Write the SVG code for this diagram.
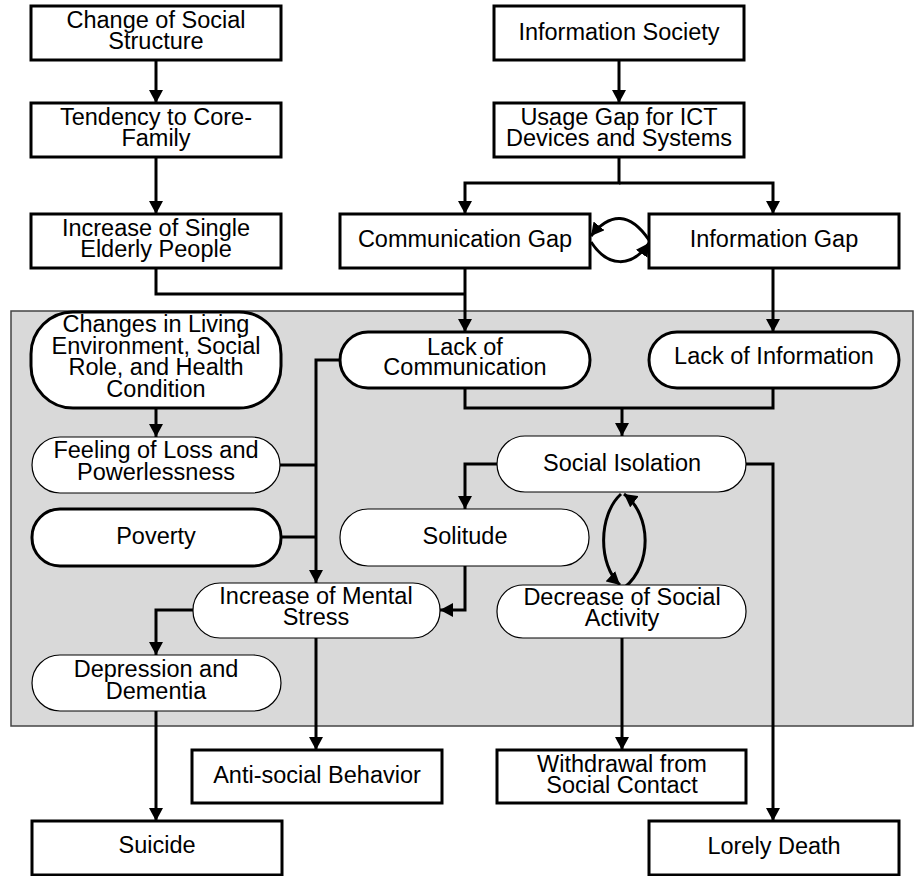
<svg xmlns="http://www.w3.org/2000/svg" width="914" height="876" viewBox="0 0 914 876">
<defs>
<style>
text{font-family:"Liberation Sans",Arial,sans-serif;font-size:23.5px;fill:#000;text-anchor:middle}
.box{fill:#fff;stroke:#000;stroke-width:3}
.thick{fill:#fff;stroke:#000;stroke-width:3}
.thin{fill:#fff;stroke:#000;stroke-width:1.2}
.c{fill:none;stroke:#000;stroke-width:3}
.a{fill:none;stroke:#000;stroke-width:3;marker-end:url(#ah)}
</style>
<marker id="ah" markerUnits="userSpaceOnUse" markerWidth="14" markerHeight="14" refX="13" refY="7" orient="auto">
<path d="M0,0 L13,7 L0,14 z" fill="#000"/>
</marker>
</defs>
<rect x="11" y="311" width="902" height="415" fill="#d9d9d9" stroke="#444" stroke-width="1.5"/>
<g id="connectors">
<path class="a" d="M156,60 V103"/>
<path class="a" d="M156,157 V214"/>
<path class="a" d="M619,60 V103"/>
<path class="a" d="M619,157 V183 H465 V214"/>
<path class="a" d="M619,183 H773 V214"/>
<path class="a" d="M649,240 C630,212 610,212 591,236"/>
<path class="a" d="M591,242 C608,268 632,268 649,243"/>
<path class="c" d="M156,268 V294 H465"/>
<path class="a" d="M465,268 V332"/>
<path class="a" d="M773,268 V332"/>
<path class="a" d="M156,408 V437"/>
<path class="a" d="M340,360 H316 V583"/>
<path class="c" d="M280,465 H316"/>
<path class="c" d="M281,537 H316"/>
<path class="c" d="M465,388 V408 H773 V388"/>
<path class="a" d="M622,408 V436"/>
<path class="a" d="M497,464 H465 V509"/>
<path class="a" d="M746,464 H773 V821"/>
<path class="a" d="M465,566 V610 H440"/>
<path class="a" d="M193,610 H156 V655"/>
<path class="a" d="M316,638 V750"/>
<path class="a" d="M156,711 V821"/>
<path class="a" d="M622,638 V750"/>
<path class="a" d="M621,494 C598,515 598,565 620,585"/>
<path class="a" d="M625,587 C652,565 652,515 624,494"/>
</g>
<g id="change-social-structure"><rect class="box" x="31" y="6" width="250" height="54"/><text x="156" y="28">Change of Social</text><text x="156" y="49">Structure</text></g>
<g id="tendency-core-family"><rect class="box" x="31" y="103" width="250" height="54"/><text x="156" y="125">Tendency to Core-</text><text x="156" y="146">Family</text></g>
<g id="increase-single-elderly"><rect class="box" x="31" y="214" width="250" height="54"/><text x="156" y="236">Increase of Single</text><text x="156" y="257">Elderly People</text></g>
<g id="information-society"><rect class="box" x="494" y="6" width="250" height="54"/><text x="619" y="40">Information Society</text></g>
<g id="usage-gap"><rect class="box" x="494" y="103" width="250" height="54"/><text x="619" y="125">Usage Gap for ICT</text><text x="619" y="146">Devices and Systems</text></g>
<g id="communication-gap"><rect class="box" x="340" y="214" width="250" height="54"/><text x="465" y="247">Communication Gap</text></g>
<g id="information-gap"><rect class="box" x="649" y="214" width="250" height="54"/><text x="774" y="247">Information Gap</text></g>
<g id="changes-living"><rect class="thick" x="31" y="312" width="250" height="96" rx="42" ry="42"/><text x="156" y="332">Changes in Living</text><text x="156" y="354">Environment, Social</text><text x="156" y="375">Role, and Health</text><text x="156" y="397">Condition</text></g>
<g id="lack-communication"><rect class="thick" x="340" y="332" width="250" height="56" rx="28"/><text x="465" y="355">Lack of</text><text x="465" y="375">Communication</text></g>
<g id="lack-information"><rect class="thick" x="649" y="332" width="250" height="56" rx="28"/><text x="774" y="364">Lack of Information</text></g>
<g id="feeling-loss"><rect class="thin" x="32" y="437" width="248" height="56" rx="28"/><text x="156" y="458">Feeling of Loss and</text><text x="156" y="480">Powerlessness</text></g>
<g id="social-isolation"><rect class="thin" x="497" y="436" width="249" height="56" rx="28"/><text x="622" y="471">Social Isolation</text></g>
<g id="poverty"><rect class="thick" x="32" y="509" width="249" height="57" rx="28"/><text x="156" y="544">Poverty</text></g>
<g id="solitude"><rect class="thin" x="340" y="509" width="249" height="57" rx="28"/><text x="465" y="544">Solitude</text></g>
<g id="increase-mental-stress"><rect class="thin" x="193" y="583" width="247" height="55" rx="27"/><text x="316" y="604">Increase of Mental</text><text x="316" y="625">Stress</text></g>
<g id="decrease-social-activity"><rect class="thin" x="497" y="585" width="249" height="53" rx="26"/><text x="622" y="605">Decrease of Social</text><text x="622" y="626">Activity</text></g>
<g id="depression-dementia"><rect class="thin" x="32" y="655" width="249" height="56" rx="28"/><text x="156" y="677">Depression and</text><text x="156" y="699">Dementia</text></g>
<g id="anti-social"><rect class="box" x="192" y="750" width="250" height="53"/><text x="317" y="783">Anti-social Behavior</text></g>
<g id="withdrawal"><rect class="box" x="497" y="750" width="249" height="53"/><text x="622" y="772">Withdrawal from</text><text x="622" y="793">Social Contact</text></g>
<g id="suicide"><rect class="box" x="32" y="821" width="250" height="54"/><text x="157" y="853">Suicide</text></g>
<g id="lonely-death"><rect class="box" x="649" y="821" width="250" height="54"/><text x="774" y="854">Lorely Death</text></g>
</svg>
